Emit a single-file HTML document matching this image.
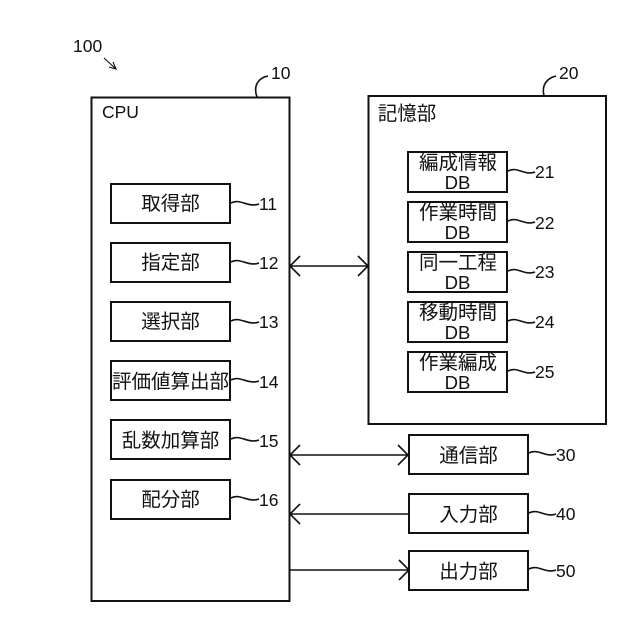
<!DOCTYPE html>
<html lang="ja">
<head>
<meta charset="utf-8">
<style>
html,body{margin:0;padding:0;background:#fff;width:640px;height:640px;overflow:hidden}
svg{display:block}
text{font-family:"Liberation Sans","Noto Sans CJK JP",sans-serif;fill:#111}
.b{fill:#fff;stroke:#111;stroke-width:2}
.l{fill:none;stroke:#111;stroke-width:1.6}
.j{font-size:19.5px;text-anchor:middle}
.n{font-size:17.5px}
.d{font-size:18.5px;text-anchor:middle}
</style>
</head>
<body>
<svg width="640" height="640" viewBox="0 0 640 640" xmlns="http://www.w3.org/2000/svg">
<rect class="b" x="91.5" y="97.5" width="198" height="503.5"/>
<rect class="b" x="368.5" y="96" width="237.5" height="328"/>

<text class="n" x="73" y="52">100</text>
<path class="l" d="M104 58 L116 69 M109 67 L116 69 L113 62" style="stroke-width:1.1"/>
<text class="n" x="271" y="79">10</text>
<path class="l" d="M268 76 C258 78 253 86 257 97"/>
<text class="n" x="559" y="79">20</text>
<path class="l" d="M556 76 C548 78 541 84 544 96"/>
<text class="n" x="102" y="118">CPU</text>
<text class="j" x="407" y="120">記憶部</text>

<rect class="b" x="111" y="184" width="119" height="39"/>
<rect class="b" x="111" y="243" width="119" height="39"/>
<rect class="b" x="111" y="302" width="119" height="39"/>
<rect class="b" x="111" y="361" width="119" height="39"/>
<rect class="b" x="111" y="420" width="119" height="39"/>
<rect class="b" x="111" y="480" width="119" height="39"/>
<text class="j" x="170.500" y="210">取得部</text>
<text class="j" x="170.500" y="269">指定部</text>
<text class="j" x="170.500" y="328">選択部</text>
<text class="j" x="170.500" y="388">評価値算出部</text>
<text class="j" x="170.500" y="447">乱数加算部</text>
<text class="j" x="170.500" y="506">配分部</text>

<path class="l" d="M231 203 C240 198 248 208 259 204"/>
<path class="l" d="M231 262 C240 257 248 267 259 263"/>
<path class="l" d="M231 321 C240 316 248 326 259 322"/>
<path class="l" d="M231 380 C240 375 248 385 259 381"/>
<path class="l" d="M231 439 C240 434 248 444 259 440"/>
<path class="l" d="M231 498 C240 493 248 503 259 499"/>
<text class="n" x="259" y="210">11</text>
<text class="n" x="259" y="269">12</text>
<text class="n" x="259" y="328">13</text>
<text class="n" x="259" y="388">14</text>
<text class="n" x="259" y="447">15</text>
<text class="n" x="259" y="506">16</text>

<rect class="b" x="408" y="152" width="99" height="40"/>
<rect class="b" x="408" y="202" width="99" height="40"/>
<rect class="b" x="408" y="252" width="99" height="40"/>
<rect class="b" x="408" y="302" width="99" height="40"/>
<rect class="b" x="408" y="352" width="99" height="40"/>
<text class="j" x="458" y="169">編成情報</text>
<text class="j" x="458" y="219">作業時間</text>
<text class="j" x="458" y="269">同一工程</text>
<text class="j" x="458" y="319">移動時間</text>
<text class="j" x="458" y="369">作業編成</text>
<text class="d" x="457.500" y="189">DB</text>
<text class="d" x="457.500" y="239">DB</text>
<text class="d" x="457.500" y="289">DB</text>
<text class="d" x="457.500" y="339">DB</text>
<text class="d" x="457.500" y="389">DB</text>

<path class="l" d="M508 171 C517 166 525 176 535 172"/>
<path class="l" d="M508 221 C517 216 525 226 535 222"/>
<path class="l" d="M508 271 C517 266 525 276 535 272"/>
<path class="l" d="M508 321 C517 316 525 326 535 322"/>
<path class="l" d="M508 371 C517 366 525 376 535 372"/>
<text class="n" x="535" y="178">21</text>
<text class="n" x="535" y="229">22</text>
<text class="n" x="535" y="278">23</text>
<text class="n" x="535" y="328">24</text>
<text class="n" x="535" y="378">25</text>

<rect class="b" x="409" y="435" width="119" height="39"/>
<rect class="b" x="409" y="494" width="119" height="39"/>
<rect class="b" x="409" y="551" width="119" height="39"/>
<text class="j" x="468.500" y="462">通信部</text>
<text class="j" x="468.500" y="521">入力部</text>
<text class="j" x="468.500" y="578">出力部</text>
<path class="l" d="M529 453 C538 448 546 458 556 454"/>
<path class="l" d="M529 513 C538 508 546 518 556 514"/>
<path class="l" d="M529 569 C538 564 546 574 556 570"/>
<text class="n" x="556" y="461">30</text>
<text class="n" x="556" y="520">40</text>
<text class="n" x="556" y="577">50</text>

<path class="l" d="M290 266 H368 M300 256 L290 266 L300 276 M358 256 L368 266 L358 276"/>
<path class="l" d="M290 455 H408 M300 445 L290 455 L300 465 M398 445 L408 455 L398 465"/>
<path class="l" d="M290 514 H409 M300 504 L290 514 L300 524"/>
<path class="l" d="M290 570 H409 M399 560 L409 570 L399 580"/>
</svg>
</body>
</html>
